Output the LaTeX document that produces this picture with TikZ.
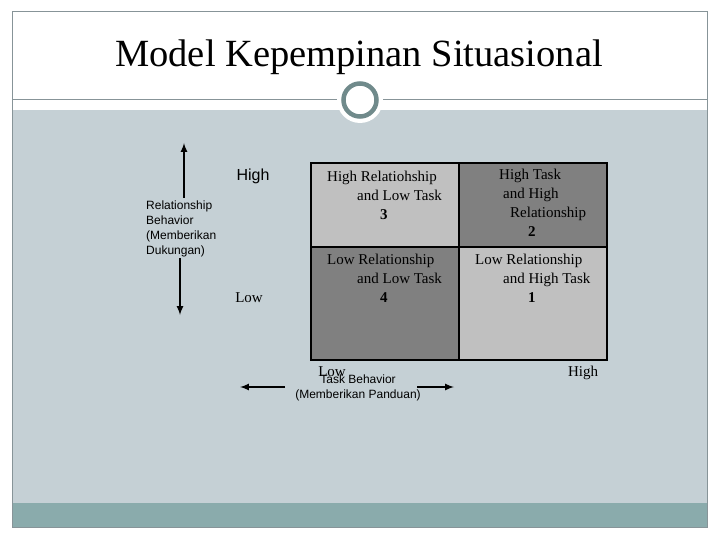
\documentclass[tikz,border=0pt]{standalone}
\usepackage{fontspec}
\setmainfont{Liberation Serif}
\setsansfont{Liberation Sans}
\usepackage{tikz}
\usetikzlibrary{positioning}
\usepackage{xcolor}

\definecolor{slidebg}{RGB}{197,208,213}
\definecolor{bandteal}{RGB}{138,171,172}
\definecolor{framegray}{RGB}{135,148,152}
\definecolor{ringgray}{RGB}{112,138,139}
\definecolor{cellLight}{RGB}{192,192,192}
\definecolor{cellDark}{RGB}{128,128,128}

\begin{document}
\begin{tikzpicture}[x=1pt, y=-1pt,
    cell/.style={draw=black, line width=2pt, minimum width=148pt, minimum height=84pt, inner sep=0pt},
    celltext/.style={font=\fontsize{15}{19}\selectfont, align=left, inner sep=0pt, anchor=north west},
    sidetext/.style={font=\sffamily\fontsize{12}{15}\selectfont, align=left, inner sep=0pt},
    axisarrow/.style={line width=2pt, -latex}]
    \useasboundingbox (0,0) rectangle (720,540);

    % Slide
    \fill[white] (0,0) rectangle (720,540);
    \fill[slidebg] (12,110) rectangle (707,503);
    \fill[bandteal] (12,503) rectangle (707,527);
    \draw[framegray, line width=1pt] (12,12) rectangle (707,527);
    \draw[framegray, line width=1pt] (12,100) -- (707,100);
    \fill[white] (360,100) circle (23pt);
    \draw[ringgray, line width=4.5pt] (360,100) circle (16.5pt);

    \node[anchor=base, inner sep=0pt, font=\fontsize{38.5}{40}\selectfont] (title) at (359,67) {Model Kepempinan Situasional};

    % Quadrants
    \node[cell, fill=cellLight, anchor=north west] (q3) at (310,162) {};
    \node[cell, fill=cellDark, anchor=north west] (q2) at (458,162) {};
    \node[cell, fill=cellDark, anchor=north west, minimum height=113pt] (q4) at (310,246) {};
    \node[cell, fill=cellLight, anchor=north west, minimum height=113pt] (q1) at (458,246) {};

    \node[celltext] (t3) at (327,171) {High Relatiohship\\\hspace*{30pt}and Low Task\\\hspace*{53pt}\textbf{3}};
    \node[celltext] (t2) at (499,169) {High Task\\\hspace*{4pt}and High\\\hspace*{11pt}Relationship\\\hspace*{29pt}\textbf{2}};
    \node[celltext] (t4) at (327,254) {Low Relationship\\\hspace*{30pt}and Low Task\\\hspace*{53pt}\textbf{4}};
    \node[celltext] (t1) at (475,254) {Low Relationship\\\hspace*{28pt}and High Task\\\hspace*{53pt}\textbf{1}};

    % Relationship axis
    \node[sidetext, anchor=north west] (relbeh) at (146,201) {Relationship\\Behavior\\(Memberikan\\Dukungan)};
    \coordinate (relUpFrom) at (184,198);
    \coordinate (relUpTo) at (184,143);
    \coordinate (relDownFrom) at (180,258);
    \coordinate (relDownTo) at (180,315);
    \draw[axisarrow] (relUpFrom) -- (relUpTo);
    \draw[axisarrow] (relDownFrom) -- (relDownTo);
    \node[font=\sffamily\fontsize{16}{18}\selectfont, inner sep=0pt] (relHigh) at (253,176) {High};
    \node[font=\fontsize{15}{17}\selectfont, inner sep=0pt] (relLow) at (249,298) {Low};

    % Task axis
    \node[font=\fontsize{15}{17}\selectfont, inner sep=0pt] (taskLow) at (332,372) {Low};
    \node[font=\fontsize{15}{17}\selectfont, inner sep=0pt] (taskHigh) at (583,373) {High};
    \node[sidetext, align=center, anchor=north] (taskbeh) at (358,375) {Task Behavior\\(Memberikan Panduan)};
    \coordinate (taskLeftFrom) at (285,387);
    \coordinate (taskLeftTo) at (240,387);
    \coordinate (taskRightFrom) at (417,387);
    \coordinate (taskRightTo) at (454,387);
    \draw[axisarrow] (taskLeftFrom) -- (taskLeftTo);
    \draw[axisarrow] (taskRightFrom) -- (taskRightTo);
\end{tikzpicture}
\end{document}
